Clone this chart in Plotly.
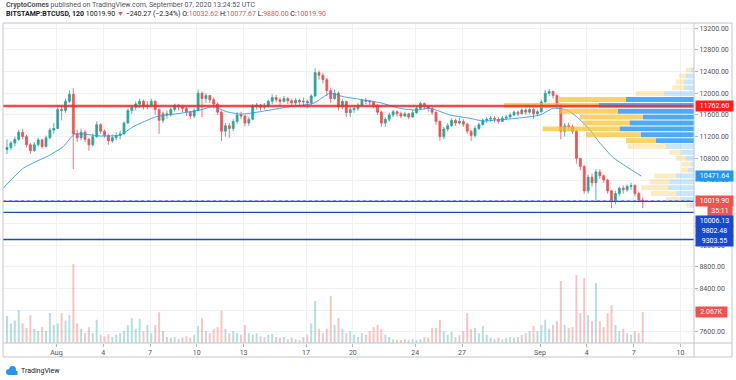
import plotly.graph_objects as go
import pandas as pd

# ---------------- data ----------------
candle_start = "2020-07-28 18:00"   # 6h candles (open times)
first_open = 10960
closes = [11000,
    11080, 11150, 11280, 11200,  11050, 10940, 11050, 11140,  11020, 11180, 11320, 11350,
    11700, 11680, 11850, 11980,  11250, 11180, 11280, 11150,  11050, 11200, 11420, 11300,
    11220, 11120, 11180, 11220,  11250, 11450, 11680, 11740,  11800, 11850, 11760, 11780,
    11850, 11700, 11500, 11620,  11600, 11700, 11780, 11750,  11720, 11650, 11580, 11680,
    12000, 11900, 11960, 11880,  11800, 11650, 11300, 11400,  11350, 11480, 11600, 11580,
    11450, 11520, 11760, 11780,  11740, 11760, 11850, 11920,  11880, 11850, 11900, 11860,
    11820, 11870, 11840, 11850,  11820, 11950, 12380, 12330,  12250, 12050, 11900, 12000,
    11750, 11850, 11640, 11700,  11720, 11780, 11870, 11850,  11840, 11780, 11650, 11450,
    11520, 11600, 11660, 11620,  11580, 11620, 11560, 11640,  11720, 11810, 11760, 11720,
    11650, 11480, 11200, 11340,  11400, 11500, 11450, 11480,  11430, 11300, 11220, 11350,
    11420, 11500, 11520, 11540,  11520, 11480, 11540, 11560,  11600, 11650, 11620, 11690,
    11650, 11700, 11620, 11660,  11840, 12000, 12030, 11960,  11780, 11300, 11400, 11380,
    11300, 10800, 10650, 10200,  10450, 10350, 10550, 10480,  10400, 10200, 10000, 10150,
    10250, 10220, 10280, 10300,  10150, 10032.62, 10019.90]
highs = [11150,
    11120, 11200, 11330, 11340,  11230, 11080, 11100, 11180,  11160, 11220, 11360, 11450,
    11750, 11780, 11900, 12050,  12090, 11330, 11350, 11320,  11180, 11260, 11480, 11450,
    11330, 11250, 11240, 11280,  11300, 11480, 11720, 11780,  11850, 11900, 11880, 11850,
    11900, 11870, 11720, 11660,  11680, 11740, 11810, 11800,  11790, 11760, 11680, 11720,
    12070, 12030, 12000, 11960,  11920, 11830, 11680, 11450,  11450, 11520, 11650, 11660,
    11600, 11560, 11800, 11820,  11800, 11820, 11880, 11980,  11970, 11920, 11950, 11930,
    11900, 11910, 11900, 11920,  11880, 11980, 12460, 12420,  12380, 12280, 12100, 12070,
    12030, 11900, 11860, 11750,  11780, 11820, 11900, 11910,  11880, 11860, 11800, 11680,
    11560, 11640, 11690, 11680,  11660, 11660, 11640, 11690,  11760, 11840, 11830, 11780,
    11740, 11660, 11500, 11380,  11450, 11540, 11530, 11550,  11520, 11450, 11320, 11400,
    11460, 11540, 11560, 11580,  11580, 11560, 11580, 11600,  11640, 11680, 11680, 11720,
    11720, 11740, 11730, 11700,  11880, 12060, 12080, 12050,  11980, 11800, 11450, 11460,
    11420, 11320, 10800, 10680,  10500, 10520, 10600, 10600,  10500, 10420, 10220, 10200,
    10280, 10300, 10320, 10350,  10320, 10180, 10077.67]
lows = [10880,
    10950, 11020, 11120, 11150,  11000, 10880, 10920, 11020,  10980, 11000, 11150, 11250,
    11350, 11500, 11640, 11820,  10600, 11100, 11130, 11100,  10940, 11020, 11180, 11250,
    11180, 11050, 11080, 11130,  11150, 11240, 11440, 11620,  11680, 11730, 11700, 11700,
    11740, 11600, 11250, 11450,  11530, 11570, 11660, 11680,  11650, 11580, 11520, 11540,
    11670, 11560, 11820, 11820,  11720, 11600, 11120, 11200,  11180, 11300, 11440, 11520,
    11380, 11400, 11500, 11700,  11680, 11700, 11730, 11800,  11830, 11780, 11830, 11800,
    11760, 11780, 11780, 11760,  11720, 11780, 11930, 12250,  12180, 11950, 11820, 11880,
    11680, 11700, 11560, 11560,  11640, 11680, 11760, 11800,  11780, 11720, 11600, 11380,
    11380, 11480, 11560, 11570,  11540, 11560, 11520, 11550,  11620, 11700, 11700, 11660,
    11600, 11420, 11120, 11150,  11300, 11380, 11400, 11420,  11380, 11250, 11120, 11180,
    11320, 11400, 11450, 11470,  11460, 11440, 11470, 11500,  11530, 11580, 11580, 11610,
    11600, 11620, 11530, 11580,  11640, 11820, 11950, 11900,  11720, 11150, 11200, 11300,
    11250, 10700, 10580, 10150,  10150, 10280, 10020, 10420,  10350, 10150, 9880, 9950,
    10100, 10150, 10180, 10220,  10100, 10000, 9880]
volumes = [1800, 1300, 1500, 2200, 1300, 1000, 1850, 950, 800, 1050,
    800, 2000, 1200, 1300, 2000, 1500, 1850, 5270, 1300, 950,
    650, 1050, 650, 1550, 550, 450, 600, 400, 550, 650,
    800, 1200, 1650, 950, 1600, 800, 1200, 650, 1200, 2050,
    800, 400, 350, 400, 250, 350, 450, 350, 550, 1150,
    1650, 800, 650, 950, 1050, 2150, 950, 650, 800, 650,
    550, 1200, 650, 550, 650, 450, 400, 550, 600, 400,
    350, 400, 250, 350, 250, 200, 400, 550, 1300, 2800,
    950, 650, 950, 3130, 1200, 1650, 950, 650, 800, 550,
    400, 650, 550, 800, 1050, 1200, 950, 550, 400, 250,
    200, 200, 250, 200, 250, 200, 250, 400, 350, 1000,
    1000, 1550, 800, 550, 750, 400, 550, 800, 2000, 950,
    1000, 650, 1150, 550, 350, 250, 350, 250, 350, 400,
    350, 400, 550, 650, 800, 1150, 800, 1200, 1550, 950,
    1200, 1450, 4130, 1200, 1000, 1050, 4530, 2000, 4330, 1850,
    1450, 4000, 1450, 1050, 2000, 2530, 1200, 800, 950, 650,
    550, 800, 650, 2067]

ma_times = ["2020-07-28 14:00", "2020-07-29 21:00", "2020-07-31 14:00", "2020-08-01 10:30",
    "2020-08-02 04:30", "2020-08-03 19:00", "2020-08-05 02:00", "2020-08-05 22:00",
    "2020-08-07 10:00", "2020-08-08 22:00", "2020-08-10 05:00", "2020-08-11 01:30",
    "2020-08-11 22:00", "2020-08-12 18:30", "2020-08-13 09:00", "2020-08-14 16:30",
    "2020-08-15 23:00", "2020-08-17 11:00", "2020-08-18 13:00", "2020-08-19 09:30",
    "2020-08-20 11:00", "2020-08-21 18:00", "2020-08-23 00:30", "2020-08-24 02:30",
    "2020-08-24 23:00", "2020-08-26 05:30", "2020-08-27 12:00", "2020-08-28 09:00",
    "2020-08-29 05:00", "2020-08-30 14:30", "2020-09-01 00:00", "2020-09-01 20:30",
    "2020-09-02 17:00", "2020-09-03 08:30", "2020-09-04 05:00", "2020-09-04 20:30",
    "2020-09-05 17:00", "2020-09-06 13:00", "2020-09-07 12:00"]
ma_values = [10247, 10616, 10861, 11014, 11248, 11211, 11229, 11382, 11567, 11629,
    11690, 11751, 11659, 11616, 11629, 11690, 11751, 11813, 11998, 11935,
    11887, 11825, 11721, 11690, 11721, 11598, 11537, 11487, 11506, 11540,
    11598, 11721, 11690, 11567, 11320, 11076, 10810, 10645, 10471.64]

# visible-range volume profile, rows from bottom (low) to top (high)
vp_low, vp_high = 9880, 12480
vp_up = [450, 1300, 1800, 2600, 2450, 1800, 600, 300, 800, 1300, 2800, 3800,
         5300, 7450, 6450, 5100, 7600, 9500, 6800, 3000, 1000, 1000, 800, 300]
vp_down = [330, 1500, 2500, 2670, 2000, 2170, 670, 1000, 1000, 1170, 3830, 3000,
           5500, 7670, 4670, 6330, 5830, 9500, 6670, 2830, 1170, 830, 670, 500]
vp_value_area = [0, 0, 0, 0, 0, 0, 0, 0, 0, 0, 0, 1,
                 1, 1, 1, 1, 1, 1, 1, 0, 0, 0, 0, 0]

resistance = 11762.60
supports = [10006.13, 9802.48, 9303.55]
countdown = "35:11"
change_abs, change_pct = -240.27, -2.34

price_ticks = [7600, 8000, 8400, 8800, 9200, 9600, 10000, 10400, 10800,
               11200, 11600, 12000, 12400, 12800, 13200]
hidden_price_ticks = [8000, 9600, 10000]   # covered by price tags in the reference
date_ticks = ["2020-08-01", "2020-08-04", "2020-08-07", "2020-08-10", "2020-08-13",
              "2020-08-17", "2020-08-20", "2020-08-24", "2020-08-27", "2020-09-01",
              "2020-09-04", "2020-09-07", "2020-09-10"]
date_labels = ["Aug", "4", "7", "10", "13", "17", "20", "24", "27", "Sep", "4", "7", "10"]

# ---------------- build ----------------
n = len(closes)
opens = [first_open] + closes[:-1]
times = pd.date_range(candle_start, periods=n, freq="6h") + pd.Timedelta(hours=2)

UP, DN = "#26a69a", "#ef5350"
FONT = "Roboto, 'Liberation Sans', sans-serif"

fig = go.Figure()

fig.add_trace(go.Candlestick(
    x=times, open=opens, high=highs, low=lows, close=closes,
    increasing=dict(line=dict(color=UP, width=0.8), fillcolor=UP),
    decreasing=dict(line=dict(color=DN, width=0.8), fillcolor=DN),
    whiskerwidth=0, hoverinfo="skip", showlegend=False))

fig.add_trace(go.Scatter(
    x=ma_times, y=ma_values, mode="lines",
    line=dict(color="rgba(33,150,243,0.85)", width=1, shape="spline", smoothing=0.6),
    hoverinfo="skip", showlegend=False))

vol_colors = ["rgba(38,166,154,0.35)" if c >= o else "rgba(239,83,80,0.35)"
              for o, c in zip(opens, closes)]
fig.add_trace(go.Bar(
    x=times, y=volumes, yaxis="y2", marker=dict(color=vol_colors, line=dict(width=0)),
    width=6 * 3600 * 1000 * 0.5, hoverinfo="skip", showlegend=False))

rows = len(vp_up)
row_h = (vp_high - vp_low) / rows
row_y = [vp_low + (i + 0.5) * row_h for i in range(rows)]
up_cols = ["rgba(33,150,243,0.80)" if v else "rgba(33,150,243,0.24)" for v in vp_value_area]
dn_cols = ["rgba(251,192,45,0.72)" if v else "rgba(251,192,45,0.30)" for v in vp_value_area]
fig.add_trace(go.Bar(
    y=row_y, x=vp_up, orientation="h", xaxis="x2", yaxis="y", width=row_h * 0.84,
    marker=dict(color=up_cols, line=dict(width=0)), hoverinfo="skip", showlegend=False))
fig.add_trace(go.Bar(
    y=row_y, x=vp_down, base=vp_up, orientation="h", xaxis="x2", yaxis="y", width=row_h * 0.84,
    marker=dict(color=dn_cols, line=dict(width=0)), hoverinfo="skip", showlegend=False))

# pixel helpers for decorations
PL, PR, PT, PB = 3, 694, 23, 343
def pxx(px):
    return (px - PL) / (PR - PL)
def pxy(py):
    return (PB - py) / (PB - PT)

shapes = []
# horizontal levels
shapes.append(dict(type="line", xref="paper", x0=0, x1=1, yref="y", y0=resistance, y1=resistance,
                   line=dict(color="rgba(244,40,40,0.85)", width=2.5)))
for s in supports:
    shapes.append(dict(type="line", xref="paper", x0=0, x1=1, yref="y", y0=s, y1=s,
                       line=dict(color="#2148b8", width=1.3)))
shapes.append(dict(type="line", xref="paper", x0=0, x1=1, yref="y", y0=closes[-1], y1=closes[-1],
                   line=dict(color="rgba(120,140,220,0.9)", width=1, dash="dot")))
# frame
BORDER = "#c3c6cf"
shapes.append(dict(type="rect", xref="paper", yref="paper", x0=pxx(3), x1=pxx(732), y0=pxy(357), y1=pxy(23),
                   line=dict(color=BORDER, width=1)))
shapes.append(dict(type="line", xref="paper", yref="paper", x0=1, x1=1, y0=pxy(357), y1=pxy(23),
                   line=dict(color=BORDER, width=1)))
shapes.append(dict(type="line", xref="paper", yref="paper", x0=pxx(3), x1=pxx(732), y0=0, y1=0,
                   line=dict(color=BORDER, width=1)))
# TradingView logo (cloud)
shapes.append(dict(type="circle", xref="paper", yref="paper", x0=pxx(6), x1=pxx(12), y0=pxy(375), y1=pxy(369),
                   fillcolor="#2196f3", line=dict(width=0)))
shapes.append(dict(type="circle", xref="paper", yref="paper", x0=pxx(9), x1=pxx(16), y0=pxy(374), y1=pxy(366),
                   fillcolor="#2196f3", line=dict(width=0)))
shapes.append(dict(type="rect", xref="paper", yref="paper", x0=pxx(9), x1=pxx(17.5), y0=pxy(375), y1=pxy(371),
                   fillcolor="#2196f3", line=dict(width=0)))

ann = []
def tag(y, text, bg, yshift=0, yref="y", x=1, xanchor="left", width=35):
    ann.append(dict(xref="paper", x=x, xanchor=xanchor, xshift=1, yref=yref, y=y, yanchor="middle",
                    yshift=yshift, text=text, showarrow=False, bgcolor=bg, borderpad=1,
                    width=width, height=8, align="center",
                    font=dict(family=FONT, size=7, color="white")))

tag(resistance, f"{resistance:.2f}", "#ff1f1f")
tag(ma_values[-1], f"{ma_values[-1]:.2f}", "#2196f3")
tag(closes[-1], f"{closes[-1]:.2f}", "#ef5350")
tag(closes[-1], countdown, "#ef5350", yshift=-10.5, x=pxx(732), xanchor="right", width=22)
tag(supports[0], f"{supports[0]:.2f}", "#1848cc", yshift=-19.3)
tag(supports[1], f"{supports[1]:.2f}", "#1848cc", yshift=-18.3)
tag(supports[2], f"{supports[2]:.2f}", "#1848cc", yshift=-1.3)
tag(volumes[-1], f"{volumes[-1]/1000:.3f}K", "#ef5350", yref="y2", width=29)

RED = "#ef5350"
line1 = ("<b>CryptoComes</b> published on TradingView.com, September 07, 2020 13:24:52 UTC")
line2 = (f"<b>BITSTAMP:BTCUSD, 120</b> {closes[-1]:.2f} <span style='color:{RED}'>▼</span> "
         f"−{abs(change_abs):.2f} (−{abs(change_pct):.2f}%) "
         f"O:<span style='color:{RED}'>{opens[-1]:.2f}</span> "
         f"H:<span style='color:{RED}'>{highs[-1]:.2f}</span> "
         f"L:<span style='color:{RED}'>{lows[-1]:.2f}</span> "
         f"C:<span style='color:{RED}'>{closes[-1]:.2f}</span>")
ann.append(dict(xref="paper", yref="paper", x=pxx(4), y=pxy(5), xanchor="left", yanchor="middle",
                text=line1, showarrow=False, font=dict(family=FONT, size=7, color="#50535e")))
ann.append(dict(xref="paper", yref="paper", x=pxx(4), y=pxy(14), xanchor="left", yanchor="middle",
                text=line2, showarrow=False, font=dict(family=FONT, size=7, color="#131722")))
ann.append(dict(xref="paper", yref="paper", x=pxx(19), y=pxy(370.5), xanchor="left", yanchor="middle",
                text="TradingView", showarrow=False, font=dict(family=FONT, size=7, color="#131722")))

price_ticktext = ["" if t in hidden_price_ticks else f"{t:.2f}" for t in price_ticks]

AX_FONT = dict(family=FONT, size=7, color="#50535e")
GRID = "#f0f2f6"
fig.update_layout(
    width=736, height=380, margin=dict(l=PL, r=736 - PR, t=PT, b=380 - PB),
    paper_bgcolor="white", plot_bgcolor="white", showlegend=False,
    barmode="overlay", hovermode=False,
    xaxis=dict(type="date", range=["2020-07-28 13:50", "2020-09-10 20:53"],
               tickvals=date_ticks, ticktext=date_labels, showgrid=True, gridcolor=GRID,
               ticks="outside", ticklen=3, tickcolor="#b2b5be", tickfont=AX_FONT,
               zeroline=False, showline=False, rangeslider=dict(visible=False), fixedrange=True),
    xaxis2=dict(overlaying="x", range=[69100, 0], visible=False, fixedrange=True),
    yaxis=dict(range=[7396, 13294], side="right", tickvals=price_ticks, ticktext=price_ticktext,
               showgrid=True, gridcolor=GRID, ticks="outside", ticklen=3, tickcolor="#b2b5be",
               tickfont=AX_FONT, zeroline=False, showline=False, fixedrange=True),
    yaxis2=dict(overlaying="y", range=[0, 21340], visible=False, fixedrange=True),
    shapes=shapes, annotations=ann,
)

fig.write_html("out.html", config={"displayModeBar": False},
               post_script="document.body.style.margin='0px';document.body.style.padding='0px';")
